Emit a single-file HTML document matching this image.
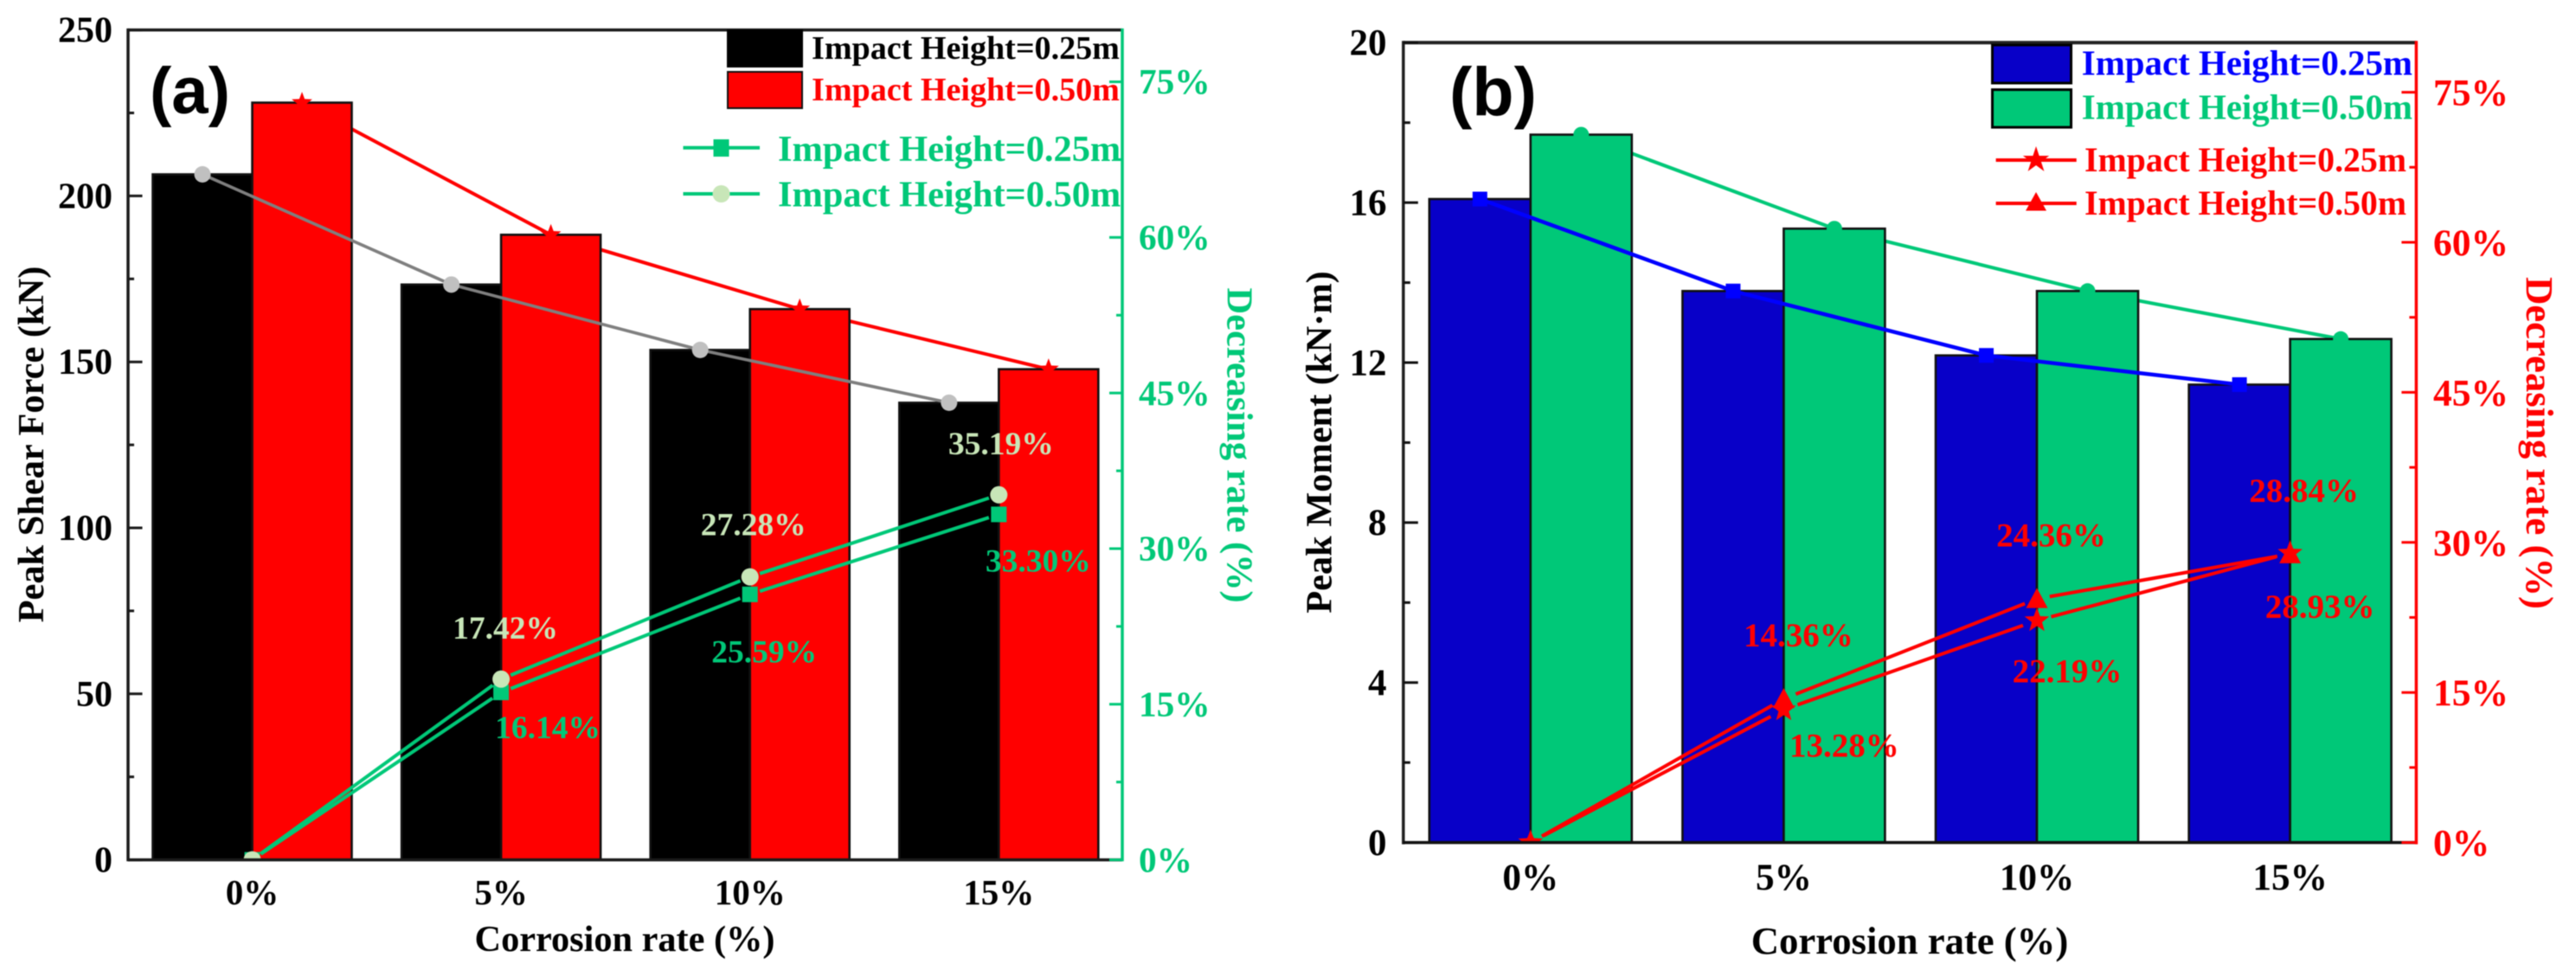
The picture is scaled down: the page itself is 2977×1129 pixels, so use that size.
<!DOCTYPE html>
<html lang="en">
<head>
<meta charset="utf-8">
<title>Peak shear force and peak moment versus corrosion rate</title>
<style>
html,body{margin:0;padding:0;background:#fff;}
svg{display:block;filter:blur(0.6px);}
text{font-family:"Liberation Serif",serif;font-weight:bold;}
.panel-tag{font-family:"Liberation Sans",sans-serif;font-weight:bold;}
</style>
</head>
<body>
<svg id="chart" xmlns="http://www.w3.org/2000/svg" width="2977" height="1129" viewBox="0 0 2977 1129">
  <rect width="2977" height="1129" fill="#fff"/>
  <defs>
    <clipPath id="clip-a"><rect x="148" y="34.6" width="1149" height="959"/></clipPath>
    <clipPath id="clip-b"><rect x="1621.8" y="49" width="1170.6" height="924.6"/></clipPath>
  </defs>
  <g id="panel-a"></g>
  <g id="panel-b"></g>

  <g>
    <text class="panel-tag" x="173" y="131" font-size="76" fill="#000">(a)</text>
    <text transform="translate(50 513.5) rotate(-90)" text-anchor="middle" font-size="42.4" fill="#000">Peak Shear Force (kN)</text>
    <text x="722" y="1099" text-anchor="middle" font-size="42.3" fill="#000">Corrosion rate (%)</text>
    <text transform="translate(1418.5 514.6) rotate(90)" text-anchor="middle" font-size="42.4" fill="#00c878">Decreasing rate (%)</text>
    <g>
      <rect x="841" y="35" width="86" height="42" fill="#000" stroke="#000" stroke-width="2"/>
      <text x="938" y="68" font-size="38.1" fill="#000">Impact Height=0.25m</text>
      <rect x="841" y="83" width="86" height="42" fill="#ff0000" stroke="#111" stroke-width="2"/>
      <text x="938" y="116" font-size="38.1" fill="#ff0000">Impact Height=0.50m</text>
    </g>
    <g>
      <line x1="789.5" y1="170.7" x2="878" y2="170.7" stroke="#00c878" stroke-width="4"/>
      <rect x="824.5" y="161" width="18" height="20" fill="#00c878"/>
      <text x="899" y="186" font-size="42.4" fill="#00c878">Impact Height=0.25m</text>
      <line x1="789.5" y1="224" x2="878" y2="224" stroke="#00c878" stroke-width="4"/>
      <circle cx="833.5" cy="224" r="10" fill="#c8e6b8"/>
      <text x="899" y="238.6" font-size="42.4" fill="#00c878">Impact Height=0.50m</text>
    </g>
  </g>

  <g>
    <text class="panel-tag" x="1675" y="133" font-size="79" fill="#000">(b)</text>
    <text transform="translate(1538.7 511) rotate(-90)" text-anchor="middle" font-size="42.4" fill="#000">Peak Moment (kN·m)</text>
    <text x="2207" y="1102" text-anchor="middle" font-size="44.7" fill="#000">Corrosion rate (%)</text>
    <text transform="translate(2920 512) rotate(90)" text-anchor="middle" font-size="44.7" fill="#ff0000">Decreasing rate (%)</text>
    <g>
      <rect x="2302.5" y="52" width="91" height="44" fill="#0800c8" stroke="#000" stroke-width="3"/>
      <text x="2405.8" y="86.4" font-size="40.9" fill="#0000ff">Impact Height=0.25m</text>
      <rect x="2302.5" y="103.6" width="91" height="43.5" fill="#00c878" stroke="#000" stroke-width="3"/>
      <text x="2405.8" y="137.5" font-size="40.9" fill="#00c878">Impact Height=0.50m</text>
    </g>
    <g>
      <line x1="2306.6" y1="185" x2="2399.7" y2="185" stroke="#ff0000" stroke-width="4"/>
      <polygon points="2353,169 2356.6,180 2368.2,180 2358.8,186.8 2362.4,197.9 2353,191 2343.6,197.9 2347.2,186.8 2337.8,180 2349.4,180" fill="#ff0000"/>
      <text x="2409" y="198" font-size="39.8" fill="#ff0000">Impact Height=0.25m</text>
      <line x1="2306.6" y1="235" x2="2399.7" y2="235" stroke="#ff0000" stroke-width="4"/>
      <polygon points="2353,222 2365,243.5 2341,243.5" fill="#ff0000"/>
      <text x="2409" y="248" font-size="39.8" fill="#ff0000">Impact Height=0.50m</text>
    </g>
  </g>
</svg>
<script>
const categories = ['0%', '5%', '10%', '15%'];

const shearLow = [206.5, 173.3, 153.6, 137.7];
const shearHigh = [228.1, 188.3, 165.9, 147.8];
const shearRateLow = [0, 16.14, 25.59, 33.30];
const shearRateHigh = [0, 17.42, 27.28, 35.19];
const shearTicks = [0, 50, 100, 150, 200, 250];
const shearMinorTicks = [25, 75, 125, 175, 225];

const momentLow = [16.09, 13.79, 12.18, 11.45];
const momentHigh = [17.70, 15.35, 13.79, 12.59];
const momentRateLow = [0, 13.28, 22.19, 28.93];
const momentRateHigh = [0, 14.36, 24.36, 28.84];
const momentTicks = [0, 4, 8, 12, 16, 20];
const momentMinorTicks = [2, 6, 10, 14, 18];

const rateTicks = [0, 15, 30, 45, 60, 75];
const rateMinorTicks = [7.5, 22.5, 37.5, 52.5, 67.5];

const SVG_NS = 'http://www.w3.org/2000/svg';

function make(tag, attrs, parent) {
  const node = document.createElementNS(SVG_NS, tag);
  for (const key in attrs) node.setAttribute(key, attrs[key]);
  parent.appendChild(node);
  return node;
}

function linear(d0, d1, r0, r1) {
  return function (v) { return r0 + (v - d0) / (d1 - d0) * (r1 - r0); };
}

function drawBar(parent, x, y, w, baseY, fill, name) {
  const bar = make('rect', { x: x, y: y, width: w, height: baseY - y, fill: fill, stroke: '#111', 'stroke-width': 2.6 }, parent);
  
  
}

function drawLine(parent, xs, ys, color, width, gap, clip, name) {
  const g = make('g', { 'clip-path': clip || 'none' }, parent);
  
  
  for (let i = 0; i < xs.length - 1; i++) {
    const dx = xs[i + 1] - xs[i];
    const dy = ys[i + 1] - ys[i];
    const len = Math.sqrt(dx * dx + dy * dy);
    const ux = dx / len;
    const uy = dy / len;
    const seg = make('line', {
      x1: xs[i] + ux * gap, y1: ys[i] + uy * gap,
      x2: xs[i + 1] - ux * gap, y2: ys[i + 1] - uy * gap,
      stroke: color, 'stroke-width': width
    }, g);
    
    
  }
}

function starPoints(cx, cy, R) {
  const pts = [];
  for (let k = 0; k < 10; k++) {
    const rad = k % 2 === 0 ? R : R * 0.42;
    const a = -Math.PI / 2 + k * Math.PI / 5;
    pts.push((cx + rad * Math.cos(a)).toFixed(1) + ',' + (cy + rad * Math.sin(a)).toFixed(1));
  }
  return pts.join(' ');
}

function drawMarker(parent, kind, cx, cy, size, color, clip, name) {
  let m;
  if (kind === 'circle') {
    m = make('circle', { cx: cx, cy: cy, r: size, fill: color }, parent);
  } else if (kind === 'square') {
    m = make('rect', { x: cx - size, y: cy - size, width: size * 2, height: size * 2, fill: color }, parent);
  } else if (kind === 'star') {
    m = make('polygon', { points: starPoints(cx, cy, size), fill: color }, parent);
  } else {
    const pts = cx + ',' + (cy - size) + ' ' + (cx + size) + ',' + (cy + size * 0.85) + ' ' + (cx - size) + ',' + (cy + size * 0.85);
    m = make('polygon', { points: pts, fill: color }, parent);
  }
  if (clip) m.setAttribute('clip-path', clip);
  
  
}

function drawText(parent, x, y, str, size, color, anchor, name) {
  const t = make('text', { x: x, y: y, 'font-size': size, fill: color, 'text-anchor': anchor }, parent);
  t.textContent = str;
  
  
}

function drawRule(parent, x1, y1, x2, y2, color, width, name) {
  const l = make('line', { x1: x1, y1: y1, x2: x2, y2: y2, stroke: color, 'stroke-width': width }, parent);
  
  
}

function pct(v) { return v.toFixed(2) + '%'; }

/* ---------- panel (a) ---------- */
(function () {
  const root = document.getElementById('panel-a');
  const L = 148, R = 1297, T = 34.6, B = 993.6, W = 115, FIRST = 291.5, STEP = 287.6;
  const xc = function (i) { return FIRST + STEP * i; };
  const y = linear(0, 250, B, T);
  const yR = linear(0, 80, B, T);
  const idx = categories.map(function (c, i) { return i; });
  const redColor = '#ff0000';
  const teal = '#00c878';
  const pale = '#c8e6b8';

  drawLine(root, idx.map(function (i) { return xc(i) + W / 2; }), shearHigh.map(y), redColor, 4, 0, null, 'shear-line-050');
  idx.forEach(function (i) {
    drawBar(root, xc(i) - W, y(shearLow[i]), W, B, '#000', 'shear-bar-025-' + categories[i]);
    drawBar(root, xc(i), y(shearHigh[i]), W, B, redColor, 'shear-bar-050-' + categories[i]);
  });
  drawLine(root, idx.map(function (i) { return xc(i) - W / 2; }), shearLow.map(y), '#7f7f7f', 3.6, 0, null, 'shear-line-025');
  idx.forEach(function (i) {
    drawMarker(root, 'circle', xc(i) - W / 2, y(shearLow[i]), 9.5, '#c0c0c0', null, 'shear-point-025');
    drawMarker(root, 'star', xc(i) + W / 2, y(shearHigh[i]), 12.5, redColor, null, 'shear-point-050');
  });

  drawLine(root, idx.map(xc), shearRateLow.map(yR), teal, 4, 12, 'url(#clip-a)', 'rate-line-025');
  drawLine(root, idx.map(xc), shearRateHigh.map(yR), teal, 4, 12, 'url(#clip-a)', 'rate-line-050');
  idx.forEach(function (i) {
    drawMarker(root, 'square', xc(i), yR(shearRateLow[i]), 9, teal, 'url(#clip-a)', 'rate-point-025');
    drawMarker(root, 'circle', xc(i), yR(shearRateHigh[i]), 10, pale, 'url(#clip-a)', 'rate-point-050');
  });

  drawText(root, xc(1) + 5, yR(shearRateHigh[1]) - 47, pct(shearRateHigh[1]), 37.5, pale, 'middle', 'rate-value-050');
  drawText(root, xc(2) + 4, yR(shearRateHigh[2]) - 48, pct(shearRateHigh[2]), 37.5, pale, 'middle', 'rate-value-050');
  drawText(root, xc(3) + 2.5, yR(shearRateHigh[3]) - 47, pct(shearRateHigh[3]), 37.5, pale, 'middle', 'rate-value-050');
  drawText(root, xc(1) + 54, yR(shearRateLow[1]) + 53, pct(shearRateLow[1]), 37.5, teal, 'middle', 'rate-value-025');
  drawText(root, xc(2) + 16.5, yR(shearRateLow[2]) + 78.5, pct(shearRateLow[2]), 37.5, teal, 'middle', 'rate-value-025');
  drawText(root, xc(3) + 45.5, yR(shearRateLow[3]) + 66, pct(shearRateLow[3]), 37.5, teal, 'middle', 'rate-value-025');

  drawRule(root, L, T, R, T, '#1a1a1a', 3.5, 'top-spine');
  drawRule(root, L, T - 1.7, L, B + 1.7, '#1a1a1a', 3.5, 'left-spine');
  drawRule(root, L, B, R, B, '#1a1a1a', 3.5, 'bottom-spine');
  drawRule(root, R, T - 1.7, R, B + 1.7, teal, 3.5, 'right-spine');

  shearTicks.forEach(function (v) {
    drawRule(root, L, y(v), L + 16.5, y(v), '#1a1a1a', 3, 'left-major-tick');
    drawText(root, 130, y(v) + 14, String(v), 42, '#000', 'end', 'left-tick-label');
  });
  shearMinorTicks.forEach(function (v) {
    drawRule(root, L, y(v), L + 7, y(v), '#1a1a1a', 3, 'left-minor-tick');
  });
  rateTicks.forEach(function (v) {
    drawRule(root, R, yR(v), R - 15, yR(v), teal, 3, 'right-major-tick');
    drawText(root, 1316, yR(v) + 13.7, v + '%', 41.3, teal, 'start', 'right-tick-label');
  });
  rateMinorTicks.forEach(function (v) {
    drawRule(root, R, yR(v), R - 7, yR(v), teal, 3, 'right-minor-tick');
  });
  categories.forEach(function (c, i) {
    drawText(root, xc(i), 1045, c, 41, '#000', 'middle', 'x-tick-label');
  });
})();

/* ---------- panel (b) ---------- */
(function () {
  const root = document.getElementById('panel-b');
  const L = 1621.8, R = 2792.4, T = 49.3, B = 973.6, W = 117, FIRST = 1768.8, STEP = 292.6;
  const xc = function (i) { return FIRST + STEP * i; };
  const y = linear(0, 20, B, T);
  const yR = linear(0, 80, B, T - 0.5);
  const idx = categories.map(function (c, i) { return i; });
  const blue = '#0800c8';
  const teal = '#00c878';
  const redColor = '#ff0000';

  drawLine(root, idx.map(function (i) { return xc(i) + W / 2; }), momentHigh.map(y), teal, 4, 0, null, 'moment-line-050');
  idx.forEach(function (i) {
    drawBar(root, xc(i) - W, y(momentLow[i]), W, B, blue, 'moment-bar-025-' + categories[i]);
    drawBar(root, xc(i), y(momentHigh[i]), W, B, teal, 'moment-bar-050-' + categories[i]);
  });
  drawLine(root, idx.map(function (i) { return xc(i) - W / 2; }), momentLow.map(y), '#0000ff', 4.5, 0, null, 'moment-line-025');
  idx.forEach(function (i) {
    drawMarker(root, 'square', xc(i) - W / 2, y(momentLow[i]), 8.5, '#0000ff', null, 'moment-point-025');
    drawMarker(root, 'circle', xc(i) + W / 2, y(momentHigh[i]), 9, teal, null, 'moment-point-050');
  });

  drawLine(root, idx.map(xc), momentRateLow.map(yR), redColor, 4, 17, 'url(#clip-b)', 'moment-rate-line-025');
  drawLine(root, idx.map(xc), momentRateHigh.map(yR), redColor, 4, 15, 'url(#clip-b)', 'moment-rate-line-050');
  idx.forEach(function (i) {
    drawMarker(root, 'star', xc(i), yR(momentRateLow[i]), 15, redColor, 'url(#clip-b)', 'moment-rate-point-025');
    drawMarker(root, 'triangle', xc(i), yR(momentRateHigh[i]), 12.5, redColor, 'url(#clip-b)', 'moment-rate-point-050');
  });

  drawText(root, xc(1) + 17, yR(momentRateHigh[1]) - 60.5, pct(momentRateHigh[1]), 39, redColor, 'middle', 'moment-rate-value-050');
  drawText(root, xc(2) + 16.5, yR(momentRateHigh[2]) - 60.5, pct(momentRateHigh[2]), 39, redColor, 'middle', 'moment-rate-value-050');
  drawText(root, xc(3) + 16, yR(momentRateHigh[3]) - 60, pct(momentRateHigh[3]), 39, redColor, 'middle', 'moment-rate-value-050');
  drawText(root, xc(1) + 70, yR(momentRateLow[1]) + 54.5, pct(momentRateLow[1]), 39, redColor, 'middle', 'moment-rate-value-025');
  drawText(root, xc(2) + 35, yR(momentRateLow[2]) + 71.5, pct(momentRateLow[2]), 39, redColor, 'middle', 'moment-rate-value-025');
  drawText(root, xc(3) + 34.5, yR(momentRateLow[3]) + 75, pct(momentRateLow[3]), 39, redColor, 'middle', 'moment-rate-value-025');

  drawRule(root, L, T, R, T, '#222', 4, 'top-spine');
  drawRule(root, L, T - 2, L, B + 2, '#222', 3.5, 'left-spine');
  drawRule(root, L, B, R, B, '#111', 3.5, 'bottom-spine');
  drawRule(root, R, T - 2, R, B + 2, redColor, 3.5, 'right-spine');

  momentTicks.forEach(function (v) {
    drawRule(root, L, y(v), L + 17, y(v), '#111', 3, 'left-major-tick');
    drawText(root, 1602.5, y(v) + 14.3, String(v), 43, '#000', 'end', 'left-tick-label');
  });
  momentMinorTicks.forEach(function (v) {
    drawRule(root, L, y(v), L + 8, y(v), '#111', 3, 'left-minor-tick');
  });
  rateTicks.forEach(function (v) {
    drawRule(root, R, yR(v), R - 17, yR(v), redColor, 3, 'right-major-tick');
    drawText(root, 2812, yR(v) + 15, v + '%', 43.5, redColor, 'start', 'right-tick-label');
  });
  rateMinorTicks.forEach(function (v) {
    drawRule(root, R, yR(v), R - 8, yR(v), redColor, 3, 'right-minor-tick');
  });
  categories.forEach(function (c, i) {
    drawText(root, xc(i), 1028, c, 43.2, '#000', 'middle', 'x-tick-label');
  });
})();
</script>
</body>
</html>
